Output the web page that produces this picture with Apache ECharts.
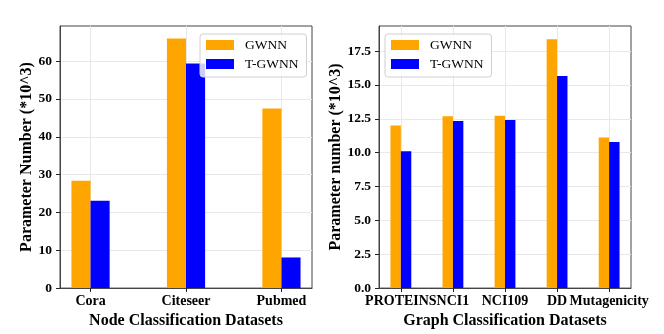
<!DOCTYPE html>
<html>
<head>
<meta charset="utf-8">
<script src="https://cdn.jsdelivr.net/npm/echarts@6/dist/echarts.min.js"></script>
<style>
  html, body { margin: 0; padding: 0; background: #fff; }
  #chart { width: 664px; height: 334px; }
</style>
</head>
<body>
<div id="chart"></div>
<script>
const nodeCategories = ['Cora', 'Citeseer', 'Pubmed'];
const nodeGwnn = [28.4, 66.0, 47.5];
const nodeTgwnn = [23.1, 59.4, 8.1];
const nodeTicks = [0, 10, 20, 30, 40, 50, 60];

const graphCategories = ['PROTEINS', 'NCI1', 'NCI109', 'DD', 'Mutagenicity'];
const graphGwnn = [12.0, 12.68, 12.73, 18.38, 11.11];
const graphTgwnn = [10.1, 12.33, 12.41, 15.66, 10.79];
const graphTicks = [0, 2.5, 5, 7.5, 10, 12.5, 15, 17.5];

const FONT = 'Liberation Serif';
const BAR_W = 0.2;

// bars drawn in data units so the width scales with the axis
function barRenderer(offset) {
  return (params, api) => {
    const i = api.value(0), v = api.value(1);
    const p0 = api.coord([i + offset - BAR_W / 2, v]);
    const p1 = api.coord([i + offset + BAR_W / 2, 0]);
    return {
      type: 'rect',
      shape: { x: p0[0], y: p0[1], width: p1[0] - p0[0], height: p1[1] - p0[1] },
      style: { fill: api.visual('color') }
    };
  };
}

function xAxisFor(idx, cats, name) {
  const ticks = cats.map((c, i) => i);
  return {
    type: 'value', gridIndex: idx,
    min: -0.2 - (cats.length - 1 + 0.4) * 0.05,
    max: cats.length - 1 + 0.2 + (cats.length - 1 + 0.4) * 0.05,
    name: name, nameLocation: 'middle', nameGap: 24,
    nameTextStyle: { fontFamily: FONT, fontWeight: 'bold', fontSize: 16, color: '#000' },
    axisLine: { show: true, onZero: false, lineStyle: { color: '#444', width: 1 } },
    axisTick: { show: true, length: 4, customValues: ticks, lineStyle: { color: '#222' } },
    axisLabel: {
      customValues: ticks, margin: 6,
      formatter: v => cats[Math.round(v)],
      fontFamily: FONT, fontWeight: 'bold', fontSize: 14, color: '#000'
    },
    splitLine: { show: true, lineStyle: { color: '#e8e8e8', width: 1 } }
  };
}

function yAxisFor(idx, ticks, max, name, gap, fmt) {
  return {
    type: 'value', gridIndex: idx, min: 0, max: max,
    name: name, nameLocation: 'middle', nameGap: gap,
    nameTextStyle: { fontFamily: FONT, fontWeight: 'bold', fontSize: 16, color: '#000' },
    axisLine: { show: true, onZero: false, lineStyle: { color: '#444', width: 1 } },
    axisTick: { show: true, length: 4, customValues: ticks, lineStyle: { color: '#222' } },
    axisLabel: {
      customValues: ticks, margin: 8, formatter: fmt,
      fontFamily: FONT, fontWeight: 'bold', fontSize: 13.5, color: '#000'
    },
    splitLine: { show: true, lineStyle: { color: '#e8e8e8', width: 1 } }
  };
}

function legendAt(left) {
  return {
    left: left, top: 34, orient: 'vertical',
    data: ['GWNN', 'T-GWNN'],
    icon: 'rect', itemWidth: 28, itemHeight: 10, itemGap: 5,
    padding: [4, 8, 6, 6],
    backgroundColor: 'rgba(255,255,255,0.8)',
    borderColor: '#d0d0d0', borderWidth: 1, borderRadius: 3,
    textStyle: { fontFamily: FONT, fontSize: 13.5, color: '#000', padding: [0, 0, 0, 6] }
  };
}

const chart = echarts.init(document.getElementById('chart'), null, { renderer: 'canvas' });

const option = {
  animation: false,
  backgroundColor: '#fff',
  grid: [
    { left: 60, top: 26, width: 252, height: 264, show: true, borderColor: '#444', borderWidth: 1, backgroundColor: 'transparent' },
    { left: 379, top: 26, width: 252, height: 264, show: true, borderColor: '#444', borderWidth: 1, backgroundColor: 'transparent' }
  ],
  legend: [legendAt(200), legendAt(385)],
  xAxis: [
    xAxisFor(0, nodeCategories, 'Node Classification Datasets'),
    xAxisFor(1, graphCategories, 'Graph Classification Datasets')
  ],
  yAxis: [
    yAxisFor(0, nodeTicks, 69.3, 'Parameter Number (*10^3)', 25, v => String(v)),
    yAxisFor(1, graphTicks, 19.35, 'Parameter number (*10^3)', 30, v => v.toFixed(1))
  ],
  series: [
    { name: 'GWNN', type: 'custom', xAxisIndex: 0, yAxisIndex: 0, itemStyle: { color: '#FFA500' },
      renderItem: barRenderer(-0.1), data: nodeGwnn.map((v, i) => [i, v]) },
    { name: 'T-GWNN', type: 'custom', xAxisIndex: 0, yAxisIndex: 0, itemStyle: { color: '#0000FF' },
      renderItem: barRenderer(0.1), data: nodeTgwnn.map((v, i) => [i, v]) },
    { name: 'GWNN', type: 'custom', xAxisIndex: 1, yAxisIndex: 1, itemStyle: { color: '#FFA500' },
      renderItem: barRenderer(-0.1), data: graphGwnn.map((v, i) => [i, v]) },
    { name: 'T-GWNN', type: 'custom', xAxisIndex: 1, yAxisIndex: 1, itemStyle: { color: '#0000FF' },
      renderItem: barRenderer(0.1), data: graphTgwnn.map((v, i) => [i, v]) }
  ]
};

chart.setOption(option);
</script>
</body>
</html>
